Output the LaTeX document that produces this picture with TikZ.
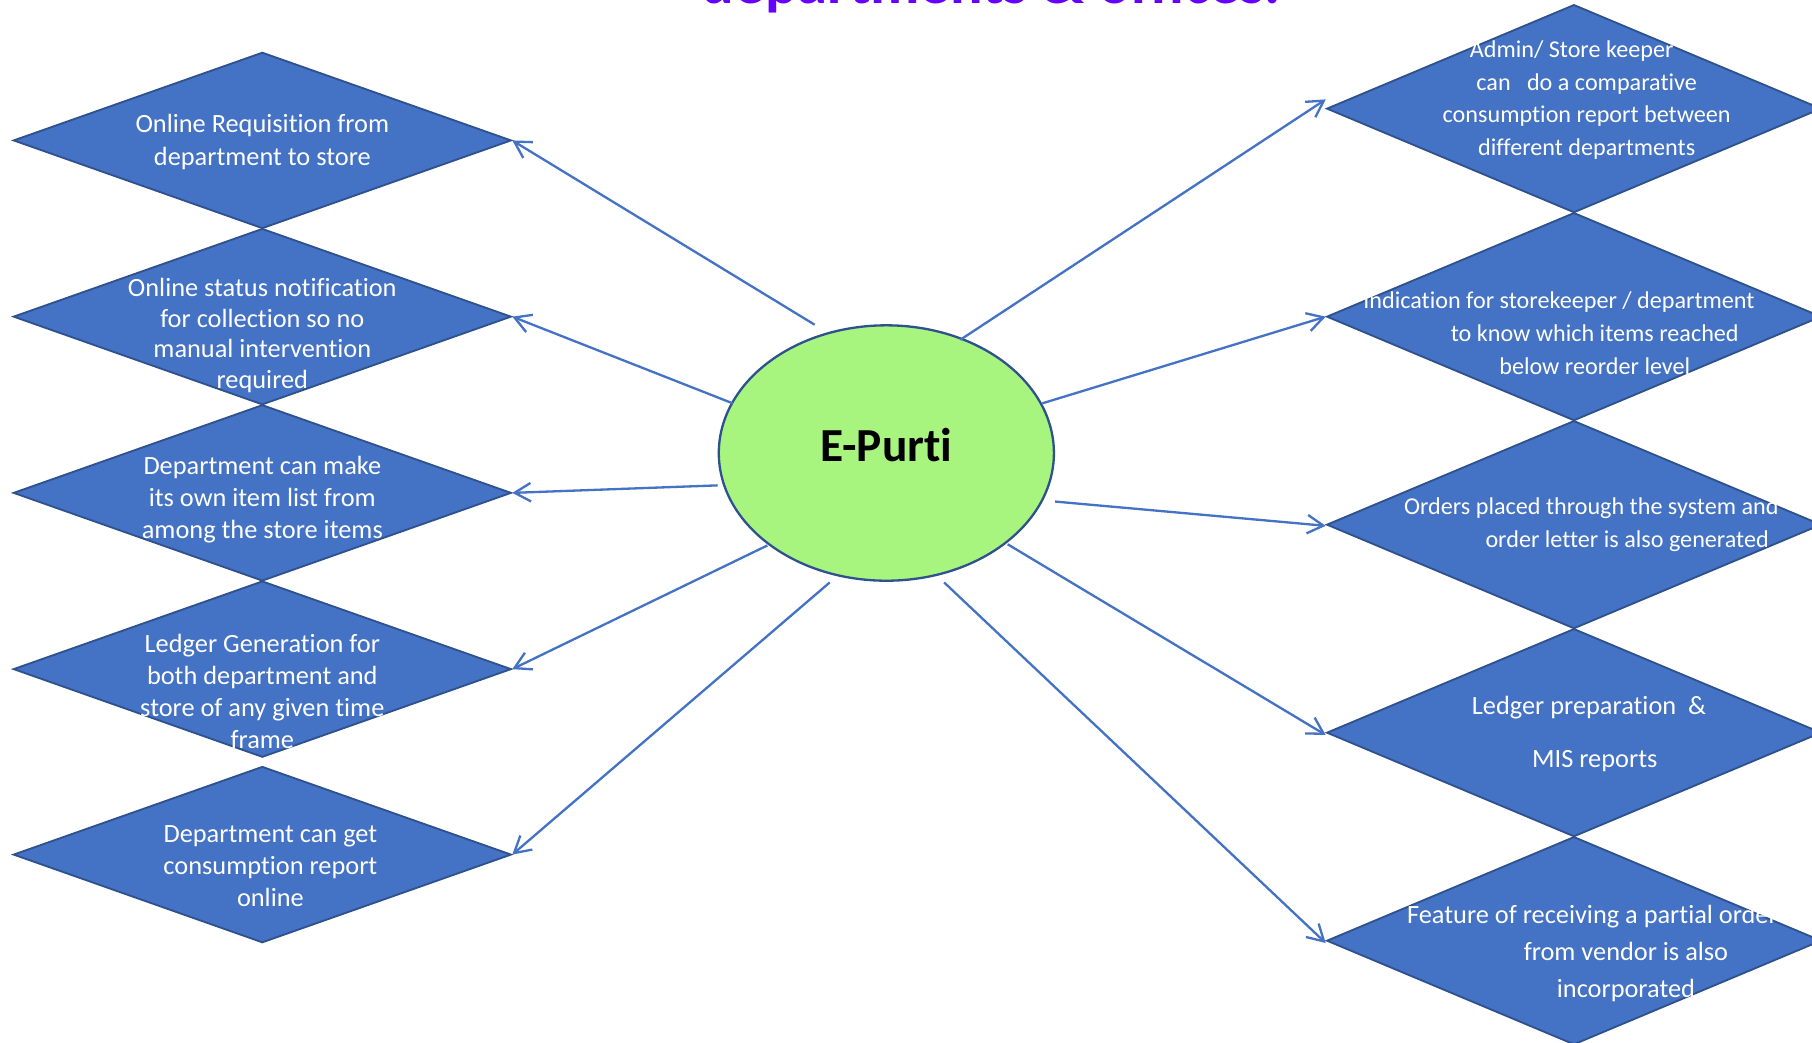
\documentclass[tikz,border=0pt]{standalone}
\usepackage{fontspec}
\setmainfont{Carlito}[Ligatures=NoCommon]
\usetikzlibrary{shapes.geometric,arrows.meta}
\definecolor{dblue}{HTML}{4472C4}
\definecolor{dborder}{HTML}{2F528F}
\definecolor{egreen}{HTML}{A7F47F}
\definecolor{ttl}{HTML}{6600FF}
\begin{document}
\begin{tikzpicture}[x=0.5pt,y=-0.5pt,
  dia/.style={diamond, draw=dborder, fill=dblue, line width=0.8pt, inner sep=0pt},
  ldia/.style={dia, minimum width=215.5pt, minimum height=76.25pt},
  rdia/.style={dia, minimum width=214pt, minimum height=90pt},
  txt/.style={text=white, align=center, inner sep=0pt, font=\fontsize{11.4pt}{14pt}\selectfont},
  arr/.style={draw=dblue, line width=1pt, -{Straight Barb[length=7pt,width=8pt]}}]
\useasboundingbox (0,0) rectangle (1568,902);
\clip (0,0) rectangle (1568,902);

% title (cut off at top)
\node[anchor=base west, text=ttl, inner sep=0pt, font=\fontsize{26.3pt}{30pt}\selectfont\bfseries] (title) at (607,3) {departments \& offices.};

% left diamonds
\node[ldia] (d1) at (227,121.5) {};
\node[ldia] (d2) at (227,274) {};
\node[ldia] (d3) at (227,426.5) {};
\node[ldia] (d4) at (227,579) {};
\node[ldia] (d5) at (227,739.5) {};

% right diamonds
\node[rdia] (r1) at (1362,94) {};
\node[rdia] (r2) at (1362,274) {};
\node[rdia] (r3) at (1362,454) {};
\node[rdia] (r4) at (1362,634) {};
\node[rdia] (r5) at (1362,814) {};

% texts left
\node[txt] (t1) at (227,123) {Online Requisition from\\department to store};
\node[txt, font=\fontsize{11.4pt}{13.2pt}\selectfont] (t2) at (227,290.5) {Online status notification\\for collection so no\\manual intervention\\required};
\node[txt, font=\fontsize{11.4pt}{13.75pt}\selectfont] (t3) at (227,432.5) {Department can make\\its own item list from\\among the store items};
\node[txt, font=\fontsize{11.4pt}{13.85pt}\selectfont] (t4) at (227,598.5) {Ledger Generation for\\both department and\\store of any given time\\frame};
\node[txt, font=\fontsize{11.4pt}{13.75pt}\selectfont] (t5) at (234,749.5) {Department can get\\consumption report\\online};

% texts right
\node[txt, font=\fontsize{10.45pt}{14.15pt}\selectfont] (u1) at (1373,86.5) {Admin/ Store keeper\hspace*{13pt}\\can\ \ \ do a comparative\\consumption report between\\different departments};
\node[txt, font=\fontsize{10.45pt}{14.25pt}\selectfont] (u2) at (1380,288.5) {Indication for storekeeper / department\hspace*{31pt}\\to know which items reached\\below reorder level};
\node[txt, font=\fontsize{10.45pt}{14pt}\selectfont] (u3) at (1408,454) {Orders placed through the system and\hspace*{31pt}\\order letter is also generated};
\node[txt] (u4) at (1380,635) {Ledger preparation\ \ \&\hspace*{5pt}\\[9pt]MIS reports};
\node[txt, font=\fontsize{11.4pt}{16pt}\selectfont] (u5) at (1407,825) {Feature of receiving a partial order\hspace*{29pt}\\from vendor is also\\incorporated};

% central ellipse
\node[ellipse, draw=dborder, fill=egreen, line width=1pt, minimum width=145pt, minimum height=110.5pt, inner sep=0pt, text depth=7pt, font=\fontsize{20.5pt}{24pt}\selectfont\bfseries] (ep) at (767,392) {E-Purti};

% start points of connectors
\coordinate (s1) at (705,281);
\coordinate (s2) at (634,349);
\coordinate (s3) at (621,420);
\coordinate (s4) at (664,472);
\coordinate (s5) at (718,504);
\coordinate (q1) at (831,294);
\coordinate (q2) at (902,349);
\coordinate (q3) at (913,434);
\coordinate (q4) at (872,471);
\coordinate (q5) at (817,504);

% connectors
\draw[arr] (s1) -- (d1.east);
\draw[arr] (s2) -- (d2.east);
\draw[arr] (s3) -- (d3.east);
\draw[arr] (s4) -- (d4.east);
\draw[arr] (s5) -- (d5.east);
\draw[arr] (q1) -- ([yshift=4pt]r1.west);
\draw[arr] (q2) -- (r2.west);
\draw[arr] (q3) -- ([yshift=-0.5pt]r3.west);
\draw[arr] (q4) -- ([yshift=-1pt]r4.west);
\draw[arr] (q5) -- ([yshift=-1pt]r5.west);
\end{tikzpicture}
\end{document}
